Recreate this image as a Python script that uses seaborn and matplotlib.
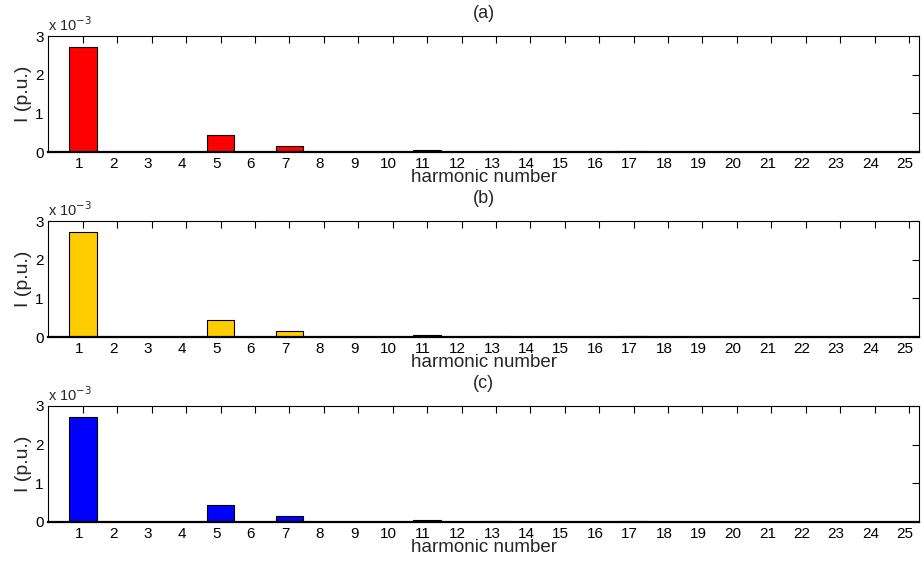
import numpy as np
import pandas as pd
import matplotlib
matplotlib.use("Agg")
import matplotlib.pyplot as plt
import seaborn as sns
from matplotlib.ticker import FuncFormatter
from matplotlib.transforms import ScaledTranslation

harmonics = list(range(1, 26))
# current magnitudes in p.u. (x 1e-3)
current_a = [2.72, 0.0, 0.006, 0.0, 0.44, 0.0, 0.16, 0.0, 0.01, 0.0, 0.045, 0.0, 0.035,
             0.0, 0.01, 0.0, 0.035, 0.0, 0.008, 0.0, 0.008, 0.0, 0.008, 0.0, 0.008]
current_b = [2.72, 0.0, 0.006, 0.0, 0.44, 0.0, 0.16, 0.0, 0.01, 0.0, 0.045, 0.0, 0.035,
             0.0, 0.01, 0.0, 0.035, 0.0, 0.008, 0.0, 0.008, 0.0, 0.008, 0.0, 0.008]
current_c = [2.72, 0.0, 0.006, 0.0, 0.44, 0.0, 0.16, 0.0, 0.01, 0.0, 0.045, 0.0, 0.035,
             0.0, 0.01, 0.0, 0.035, 0.0, 0.008, 0.0, 0.008, 0.0, 0.008, 0.0, 0.008]
panel_titles = ["(a)", "(b)", "(c)"]
panel_colors = ["#FF0000", "#FFCC00", "#0000FF"]
xlabel = "harmonic number"
ylabel = "I (p.u.)"
ytick_vals = [0, 1, 2, 3]

sns.set_theme(style="white")
plt.rcParams["font.family"] = ["Liberation Sans", "DejaVu Sans"]

fig = plt.figure(figsize=(9.23, 5.67), dpi=100)
left, width, height = 0.0525, 0.9435, 0.2046
bottoms = [0.7319, 0.4056, 0.0794]

for series, title, color, bottom in zip([current_a, current_b, current_c],
                                         panel_titles, panel_colors, bottoms):
    ax = fig.add_axes([left, bottom, width, height])
    df = pd.DataFrame({"h": harmonics, "I": np.array(series) * 1e-3})
    sns.barplot(data=df, x="h", y="I", native_scale=True, color=color,
                edgecolor="black", linewidth=0.8, width=0.8, saturation=1, ax=ax)
    ax.set_xlim(0, 25.3)
    ax.set_ylim(0, 3e-3)
    ax.set_xticks(harmonics)
    ax.set_xticklabels([str(h) for h in harmonics], fontsize=11)
    ax.set_yticks([v * 1e-3 for v in ytick_vals])
    ax.yaxis.set_major_formatter(FuncFormatter(lambda v, p: f"{v*1e3:g}"))
    ax.tick_params(axis="y", labelsize=11)
    ax.tick_params(direction="in", top=True, right=True, length=5, width=0.8,
                   colors="black", pad=3.5)
    shift = ScaledTranslation(-4 / 100, 0, fig.dpi_scale_trans)
    for lab in ax.get_xticklabels():
        lab.set_transform(lab.get_transform() + shift)
    for s in ax.spines.values():
        s.set_visible(True)
        s.set_color("black")
        s.set_linewidth(0.8)
    ax.spines["bottom"].set_linewidth(1.6)
    ax.set_xlabel(xlabel, fontsize=13.5, labelpad=-1)
    ax.set_ylabel(ylabel, fontsize=14, labelpad=2)
    ax.set_title(title, fontsize=13, pad=13)
    ax.text(0.0, 1.015, r"x 10$^{-3}$", transform=ax.transAxes, fontsize=10.5,
            ha="left", va="bottom")
    ax.set_facecolor("white")

fig.savefig("out.png", dpi=100, facecolor="white")
